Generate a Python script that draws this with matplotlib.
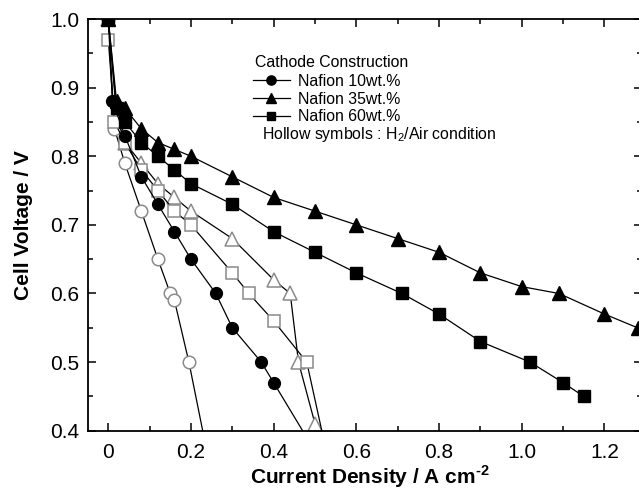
import numpy as np
import matplotlib
matplotlib.use("Agg")
import matplotlib.pyplot as plt
from matplotlib.ticker import MultipleLocator

plt.rcParams['font.family'] = ['Liberation Sans', 'DejaVu Sans']
plt.rcParams['mathtext.fontset'] = 'custom'
plt.rcParams['mathtext.rm'] = 'Liberation Sans'
plt.rcParams['mathtext.bf'] = 'Liberation Sans:bold'

# ============================================================
# Data (H2/O2 filled, H2/Air hollow)
# ============================================================

x_n10 = [0, 0.01, 0.04, 0.08, 0.12, 0.16, 0.2, 0.26, 0.3, 0.37, 0.4, 0.5]
y_n10 = [1.0, 0.88, 0.83, 0.77, 0.73, 0.69, 0.65, 0.60, 0.55, 0.50, 0.47, 0.37]

x_n35 = [0, 0.02, 0.04, 0.08, 0.12, 0.16, 0.2, 0.3, 0.4, 0.5, 0.6, 0.7,
         0.8, 0.9, 1.0, 1.09, 1.2, 1.28]
y_n35 = [1.0, 0.88, 0.87, 0.84, 0.82, 0.81, 0.80, 0.77, 0.74, 0.72, 0.70, 0.68,
         0.66, 0.63, 0.61, 0.60, 0.57, 0.55]

x_n60 = [0, 0.02, 0.04, 0.08, 0.12, 0.16, 0.2, 0.3, 0.4, 0.5, 0.6, 0.71,
         0.8, 0.9, 1.02, 1.1, 1.15]
y_n60 = [1.0, 0.87, 0.85, 0.82, 0.80, 0.78, 0.76, 0.73, 0.69, 0.66, 0.63, 0.60,
         0.57, 0.53, 0.50, 0.47, 0.45]

x_n10_air = [0, 0.015, 0.04, 0.08, 0.12, 0.15, 0.16, 0.195, 0.235]
y_n10_air = [1.0, 0.84, 0.79, 0.72, 0.65, 0.60, 0.59, 0.50, 0.38]

x_n35_air = [0, 0.02, 0.04, 0.08, 0.12, 0.16, 0.2, 0.3, 0.4, 0.44, 0.46, 0.5]
y_n35_air = [1.0, 0.86, 0.82, 0.79, 0.76, 0.74, 0.72, 0.68, 0.62, 0.60, 0.50, 0.41]

x_n60_air = [0, 0.015, 0.04, 0.08, 0.12, 0.16, 0.2, 0.3, 0.34, 0.4, 0.48, 0.52]
y_n60_air = [0.97, 0.85, 0.82, 0.78, 0.75, 0.72, 0.70, 0.63, 0.60, 0.56, 0.50, 0.39]

labels = ['Nafion 10wt.%', 'Nafion 35wt.%', 'Nafion 60wt.%']

# ============================================================
# Figure setup
# ============================================================

fig = plt.figure(figsize=(6.39, 4.94), dpi=100)
ax = fig.add_axes([0.1371, 0.1281, 0.8671, 0.8334])

gray = '#8a8a8a'
lw = 0.9

ax.plot(x_n10_air, y_n10_air, '-o', color='black', lw=lw, ms=9,
        mfc='white', mec=gray, mew=1.1)
ax.plot(x_n35_air, y_n35_air, '-^', color='black', lw=lw, ms=10,
        mfc='white', mec=gray, mew=1.1)
ax.plot(x_n60_air, y_n60_air, '-s', color='black', lw=lw, ms=8.5,
        mfc='white', mec=gray, mew=1.1)

h1, = ax.plot(x_n10, y_n10, '-o', color='black', lw=lw, ms=8.5)
h2, = ax.plot(x_n35, y_n35, '-^', color='black', lw=lw, ms=9.5)
h3, = ax.plot(x_n60, y_n60, '-s', color='black', lw=lw, ms=8)

ax.set_xlim(-0.05, 1.29)
ax.set_ylim(0.4, 1.0)

ax.xaxis.set_major_locator(MultipleLocator(0.2))
ax.xaxis.set_minor_locator(MultipleLocator(0.1))
ax.yaxis.set_major_locator(MultipleLocator(0.1))
ax.yaxis.set_minor_locator(MultipleLocator(0.05))
ax.xaxis.set_major_formatter(plt.FuncFormatter(lambda v, p: '0' if abs(v) < 1e-9 else f'{v:.1f}'))
ax.yaxis.set_major_formatter(plt.FuncFormatter(lambda v, p: f'{v:.1f}'))

ax.tick_params(which='both', direction='in', top=True, right=True,
               labelsize=15, width=1.1)
ax.tick_params(which='major', length=6, pad=9)
ax.tick_params(axis='y', which='major', pad=6)
ax.tick_params(which='minor', length=3.5)

for s in ax.spines.values():
    s.set_linewidth(1.3)

ax.set_xlabel('Current Density / A cm$^{\\mathbf{\u20102}}$', fontsize=15,
              fontweight='bold')
ax.set_ylabel('Cell Voltage / V', fontsize=15, fontweight='bold')
ax.xaxis.set_label_coords((370 - 87.6) / 554.1, -(463 - 430.7) / 411.7)
ax.yaxis.set_label_coords(-(87.6 - 33) / 554.1, 0.5)

# Legend

fig.text(255 / 639, 1 - 62.7 / 494, 'Cathode Construction', fontsize=11.4,
         va='center', ha='left')

ax.legend([h1, h2, h3], labels, loc='upper left',
          bbox_to_anchor=(252.7 / 639, 1 - 74 / 494),
          bbox_transform=fig.transFigure, frameon=False, fontsize=11.4,
          handlelength=2.35, handletextpad=0.5, labelspacing=0.17,
          borderpad=0, borderaxespad=0, markerscale=0.78)

fig.text(262 / 639, 1 - 134 / 494, r'Hollow symbols : H$_2$/Air condition',
         fontsize=11.4, va='center', ha='left')

fig.savefig('out.png', dpi=100)
